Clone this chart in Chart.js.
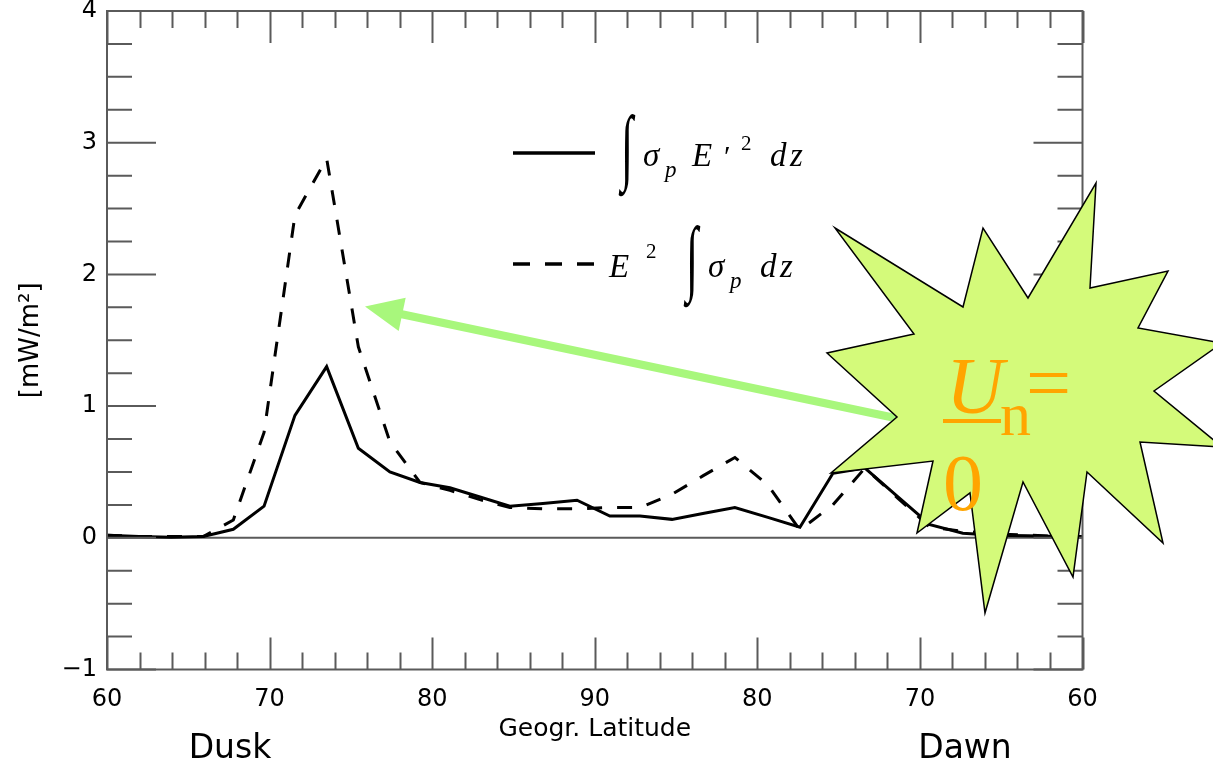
<!DOCTYPE html>
<html>
<head>
<meta charset="utf-8">
<script src="https://cdn.jsdelivr.net/npm/chart.js@4.4.0/dist/chart.umd.min.js"></script>
<style>
html,body{margin:0;padding:0;background:#fff;}
#wrap{width:1213px;height:763px;position:relative;}
</style>
</head>
<body>
<div id="wrap"><canvas id="c"></canvas></div>
<script>
// ---- data ----
// position along the track, in degrees of latitude from 60° (dusk) over the pole to 60° (dawn)
const trackPos = [0, 1.97, 3.94, 5.92, 7.77, 9.66, 11.56, 13.51, 15.46, 17.40, 19.25, 21.09, 22.94, 24.78, 26.81, 28.91,
                  30.93, 32.78, 34.75, 36.65, 38.62, 40.65, 42.62, 44.65, 46.62, 48.65, 50.62, 52.64, 54.61, 56.64, 58.61, 60];
const solidValues = [0.02, 0.01, 0.005, 0.01, 0.065, 0.24, 0.93, 1.30, 0.68, 0.50, 0.42, 0.38, 0.31, 0.24, 0.26, 0.285,
                     0.165, 0.165, 0.14, 0.185, 0.23, 0.155, 0.08, 0.49, 0.53, 0.31, 0.10, 0.035, 0.02, 0.015, 0.01, 0.01];
const dashedValues = [0.02, 0.01, 0.01, 0.01, 0.135, 0.80, 2.45, 2.88, 1.45, 0.73, 0.42, 0.36, 0.29, 0.23, 0.22, 0.22,
                      0.23, 0.23, 0.33, 0.47, 0.61, 0.40, 0.06, 0.25, 0.53, 0.30, 0.08, 0.05, 0.03, 0.02, 0.01, 0.01];
const xTickLabels = ['60', '70', '80', '90', '80', '70', '60'];
const yTickLabels = ['\u22121', '0', '1', '2', '3', '4'];
const seriesLabels = ['\u222B\u03C3p E\u2032\u00B2 dz', 'E\u00B2 \u222B\u03C3p dz'];
const sideLabels = ['Dusk', 'Dawn'];
const xTitle = 'Geogr. Latitude';
const yTitle = '[mW/m\u00B2]';
const calloutText = ['U', 'n', '=', '0'];

// ---- styling ----
const SANS = "'DejaVu Sans', sans-serif";
const SERIF = "'Liberation Serif', 'DejaVu Serif', serif";
const AXIS_GRAY = '#5a5a5a';

function drawIntegral(ctx, cx, cy) {
  ctx.save();
  ctx.font = `bold 40px ${SERIF}`;
  ctx.textAlign = 'center';
  ctx.textBaseline = 'middle';
  ctx.translate(cx, cy);
  ctx.scale(1.1, 2.1);
  ctx.fillText('\u222B', 0, 0);
  ctx.restore();
}
function txt(ctx, s, x, y, font) {
  ctx.font = font;
  ctx.fillText(s, x, y);
}

const overlay = {
  id: 'overlay',
  beforeDatasetsDraw(chart) {
    const {ctx, chartArea: a, scales: {y}} = chart;
    const y0 = y.getPixelForValue(0);
    ctx.save();
    ctx.strokeStyle = AXIS_GRAY;
    ctx.lineWidth = 2;
    ctx.beginPath();
    ctx.moveTo(a.left, y0);
    ctx.lineTo(a.right, y0);
    ctx.stroke();
    ctx.restore();
  },
  afterDatasetsDraw(chart) {
    const {ctx, chartArea: a, scales: {x, y}} = chart;
    ctx.save();
    ctx.strokeStyle = AXIS_GRAY;
    ctx.lineWidth = 2;
    ctx.strokeRect(a.left, a.top, a.right - a.left, a.bottom - a.top);
    ctx.beginPath();
    for (let v = x.min; v <= x.max + 1e-9; v += 2) {
      const px = Math.round(x.getPixelForValue(v)) + 0.5;
      const len = (Math.round(v) % 10 === 0) ? 32 : 17;
      ctx.moveTo(px, a.bottom); ctx.lineTo(px, a.bottom - len);
      ctx.moveTo(px, a.top); ctx.lineTo(px, a.top + len);
    }
    for (let v = y.min; v <= y.max + 1e-9; v += 0.25) {
      const py = y.getPixelForValue(v);
      const major = Math.abs(v - Math.round(v)) < 1e-6;
      const len = major ? 49 : 25;
      ctx.moveTo(a.left, py); ctx.lineTo(a.left + len, py);
      ctx.moveTo(a.right, py); ctx.lineTo(a.right - len, py);
    }
    ctx.stroke();
    ctx.restore();
  },
  afterDraw(chart) {
    const {ctx} = chart;
    ctx.save();
    ctx.fillStyle = '#000';
    ctx.textBaseline = 'alphabetic';
    ctx.textAlign = 'left';

    // ---- legend ----
    ctx.strokeStyle = '#000';
    ctx.lineWidth = 3.5;
    ctx.beginPath(); ctx.moveTo(513, 153); ctx.lineTo(595, 153); ctx.stroke();
    ctx.setLineDash([17, 15]);
    ctx.beginPath(); ctx.moveTo(513, 264); ctx.lineTo(595, 264); ctx.stroke();
    ctx.setLineDash([]);

    const it = `italic 33px ${SERIF}`;
    const sub = `italic 23px ${SERIF}`;
    const sup = `21px ${SERIF}`;
    // item 1: ∫σp E'² dz
    drawIntegral(ctx, 627, 152);
    txt(ctx, '\u03C3', 643, 166, it);
    txt(ctx, 'p', 665, 177, sub);
    txt(ctx, 'E', 692, 166, it);
    txt(ctx, '\u2032', 724, 166, `30px ${SERIF}`);
    txt(ctx, '2', 741, 150, sup);
    txt(ctx, 'd', 770, 166, it);
    txt(ctx, 'z', 790, 166, it);
    // item 2: E² ∫σp dz
    txt(ctx, 'E', 609, 277, it);
    txt(ctx, '2', 646, 258, sup);
    drawIntegral(ctx, 692, 263);
    txt(ctx, '\u03C3', 708, 277, it);
    txt(ctx, 'p', 730, 288, sub);
    txt(ctx, 'd', 760, 277, it);
    txt(ctx, 'z', 780, 277, it);

    // ---- Dusk / Dawn ----
    ctx.textAlign = 'center';
    ctx.font = `33px ${SANS}`;
    ctx.fillText(sideLabels[0], 230, 758);
    ctx.fillText(sideLabels[1], 965, 758);

    // ---- arrow ----
    const tail = [900, 419], tip = [365, 306.5];
    const dx = tip[0] - tail[0], dy = tip[1] - tail[1];
    const L = Math.hypot(dx, dy), ux = dx / L, uy = dy / L;
    const hl = 38, hw = 17;
    const bx = tip[0] - ux * hl, by = tip[1] - uy * hl;
    ctx.strokeStyle = '#a8f77c';
    ctx.fillStyle = '#a8f77c';
    ctx.lineWidth = 8;
    ctx.beginPath(); ctx.moveTo(tail[0], tail[1]); ctx.lineTo(bx + ux * 4, by + uy * 4); ctx.stroke();
    ctx.beginPath();
    ctx.moveTo(tip[0], tip[1]);
    ctx.lineTo(bx - uy * hw, by + ux * hw);
    ctx.lineTo(bx + uy * hw, by - ux * hw);
    ctx.closePath(); ctx.fill();

    // ---- explosion callout ----
    const star = [[835,228],[963,307],[983,228],[1028,298],[1096,183],[1090,288],[1168,271],[1138,328],
                  [1222,343],[1154,391],[1222,447],[1140,442],[1163,543],[1087,472],[1073,577],[1023,482],
                  [985,613],[970,493],[917,533],[933,461],[831,473],[897,417],[827,353],[914,334]];
    ctx.beginPath();
    star.forEach((p, i) => i ? ctx.lineTo(p[0], p[1]) : ctx.moveTo(p[0], p[1]));
    ctx.closePath();
    ctx.fillStyle = '#d4fa7a';
    ctx.fill();
    ctx.strokeStyle = '#000';
    ctx.lineWidth = 1.5;
    ctx.stroke();

    ctx.fillStyle = '#ffa500';
    ctx.textAlign = 'left';
    txt(ctx, calloutText[0], 946, 413, `italic 80px ${SERIF}`);
    ctx.fillRect(943, 419, 58, 4);
    txt(ctx, calloutText[1], 1000, 435, `62px ${SERIF}`);
    txt(ctx, calloutText[2], 1026, 410, `80px ${SERIF}`);
    txt(ctx, calloutText[3], 943, 510, `80px ${SERIF}`);
    ctx.restore();
  }
};

const mkData = vals => trackPos.map((p, i) => ({x: p, y: vals[i]}));

new Chart(document.getElementById('c'), {
  type: 'line',
  data: {
    datasets: [
      {label: seriesLabels[0], data: mkData(solidValues), borderColor: '#000', borderWidth: 3,
       pointRadius: 0, tension: 0, fill: false, borderJoinStyle: 'miter'},
      {label: seriesLabels[1], data: mkData(dashedValues), borderColor: '#000', borderWidth: 3,
       borderDash: [15, 15], pointRadius: 0, tension: 0, fill: false}
    ]
  },
  options: {
    responsive: true,
    maintainAspectRatio: false,
    animation: false,
    layout: {padding: {top: 11, right: 130.5, left: 0, bottom: 0}},
    plugins: {legend: {display: false}, tooltip: {enabled: false}},
    scales: {
      x: {
        type: 'linear', min: 0, max: 60,
        grid: {display: false, drawTicks: false}, border: {display: false},
        ticks: {stepSize: 10, autoSkip: false, maxRotation: 0, color: '#000', padding: 16,
                font: {family: SANS, size: 24},
                callback: v => xTickLabels[Math.round(v / 10)]},
        title: {display: true, text: xTitle, color: '#000', font: {family: SANS, size: 25},
                padding: {top: 0, bottom: 19}},
        afterFit(s) { s.height = 93.5; s.paddingLeft = 0; s.paddingRight = 0; }
      },
      y: {
        min: -1, max: 4,
        grid: {display: false, drawTicks: false}, border: {display: false},
        ticks: {stepSize: 1, color: '#000', padding: 10, font: {family: SANS, size: 24},
                callback: v => yTickLabels[Math.round(v) + 1]},
        title: {display: true, text: yTitle, color: '#000', font: {family: SANS, size: 26},
                padding: {top: 16, bottom: 0}},
        afterFit(s) { s.width = 107; s.paddingTop = 0; s.paddingBottom = 0; }
      }
    }
  },
  plugins: [overlay]
});
</script>
</body>
</html>
